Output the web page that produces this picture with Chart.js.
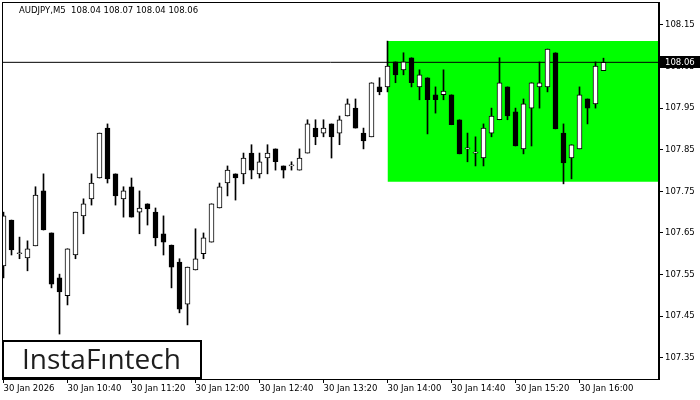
<!DOCTYPE html>
<html>
<head>
<meta charset="utf-8">
<script src="https://cdn.jsdelivr.net/npm/chart.js@4.4.1/dist/chart.umd.min.js"></script>
<style>
  html, body { margin: 0; padding: 0; background: #fff; }
  #wrap { width: 700px; height: 400px; }
</style>
</head>
<body>
<div id="wrap"><canvas id="priceChart" width="700" height="400"></canvas></div>
<script>
const symbol = 'AUDJPY,M5';

// 5-minute bars from 10:00, index = bar number
const openPrices = [
  107.571, 107.681, 107.600, 107.590, 107.619, 107.751, 107.650, 107.542, 107.499, 107.597,
  107.691, 107.732, 107.782, 107.902, 107.792, 107.732, 107.761, 107.700, 107.720, 107.700,
  107.648, 107.621, 107.580, 107.479, 107.561, 107.600, 107.628, 107.710, 107.770, 107.792,
  107.792, 107.842, 107.792, 107.830, 107.852, 107.811, 107.811, 107.801, 107.842, 107.902,
  107.890, 107.912, 107.890, 107.931, 107.950, 107.890, 107.881, 108.001, 108.001, 108.061,
  108.042, 108.071, 108.001, 108.023, 107.982, 107.982, 107.982, 107.922, 107.852, 107.842,
  107.830, 107.890, 107.922, 108.001, 107.941, 107.852, 107.950, 108.001, 108.001, 108.083,
  107.890, 107.830, 107.852, 107.972, 107.960, 108.040
];
const highPrices = [
  107.700, 107.681, 107.640, 107.631, 107.761, 107.792, 107.650, 107.551, 107.612, 107.700,
  107.732, 107.792, 107.890, 107.912, 107.792, 107.761, 107.782, 107.751, 107.720, 107.710,
  107.691, 107.621, 107.588, 107.568, 107.660, 107.650, 107.720, 107.770, 107.811, 107.792,
  107.842, 107.862, 107.842, 107.862, 107.852, 107.811, 107.821, 107.852, 107.922, 107.922,
  107.922, 107.912, 107.931, 107.972, 107.972, 107.902, 108.011, 108.023, 108.111, 108.061,
  108.083, 108.071, 108.042, 108.023, 108.001, 108.042, 107.982, 107.922, 107.890, 107.881,
  107.912, 107.950, 108.071, 108.001, 107.950, 107.972, 108.011, 108.061, 108.092, 108.083,
  107.912, 107.862, 108.001, 107.972, 108.061, 108.070
];
const lowPrices = [
  107.542, 107.597, 107.588, 107.559, 107.619, 107.657, 107.518, 107.407, 107.477, 107.588,
  107.648, 107.717, 107.782, 107.770, 107.717, 107.688, 107.688, 107.648, 107.669, 107.619,
  107.597, 107.518, 107.458, 107.429, 107.561, 107.588, 107.628, 107.710, 107.739, 107.729,
  107.768, 107.780, 107.782, 107.792, 107.801, 107.782, 107.801, 107.801, 107.842, 107.862,
  107.881, 107.830, 107.862, 107.931, 107.902, 107.852, 107.881, 107.982, 107.989, 108.011,
  108.030, 108.001, 107.970, 107.888, 107.938, 107.970, 107.910, 107.840, 107.821, 107.811,
  107.811, 107.881, 107.922, 107.922, 107.859, 107.840, 107.859, 107.950, 107.989, 107.900,
  107.768, 107.780, 107.852, 107.912, 107.950, 108.040
];
const closePrices = [
  107.691, 107.609, 107.600, 107.612, 107.741, 107.657, 107.527, 107.508, 107.612, 107.700,
  107.720, 107.770, 107.890, 107.780, 107.739, 107.751, 107.688, 107.710, 107.708, 107.638,
  107.628, 107.568, 107.467, 107.568, 107.588, 107.638, 107.720, 107.761, 107.801, 107.782,
  107.830, 107.801, 107.821, 107.842, 107.821, 107.801, 107.811, 107.830, 107.912, 107.881,
  107.902, 107.881, 107.922, 107.960, 107.902, 107.871, 108.011, 107.989, 108.051, 108.030,
  108.061, 108.011, 108.030, 107.970, 107.970, 107.991, 107.910, 107.840, 107.852, 107.842,
  107.902, 107.931, 108.011, 107.931, 107.859, 107.960, 108.011, 108.011, 108.092, 107.900,
  107.818, 107.862, 107.982, 107.950, 108.051, 108.060
];

const xTickBars = [0, 8, 16, 24, 32, 40, 48, 56, 64, 72];
const xTickLabels = [
  '30 Jan 2026', '30 Jan 10:40', '30 Jan 11:20', '30 Jan 12:00', '30 Jan 12:40',
  '30 Jan 13:20', '30 Jan 14:00', '30 Jan 14:40', '30 Jan 15:20', '30 Jan 16:00'
];
const yTicks = [107.35, 107.45, 107.55, 107.65, 107.75, 107.85, 107.95, 108.05, 108.15];

// rectangle object: starts at the 14:00 bar
const rectStartBar = 48;
const rectTop = 108.111;
const rectBottom = 107.773;

const lastIdx = closePrices.length - 1;
const lastClose = closePrices[lastIdx];
const xMin = -0.1875;
const xMax = 81.9375;

const fontFamily = "'DejaVu Sans', Verdana, sans-serif";
const labelFont = { family: fontFamily, size: 8.5 };

const bodyData = openPrices.map((o, i) => ({ x: i, y: [o, closePrices[i]] }));
const wickData = lowPrices.map((l, i) => ({ x: i, y: [l, highPrices[i]] }));
const bodyColors = openPrices.map((o, i) => closePrices[i] >= o ? '#ffffff' : '#000000');

function noScalePadding(scale) {
    scale.paddingTop = 0;
    scale.paddingBottom = 0;
    scale.paddingLeft = 0;
    scale.paddingRight = 0;
}

const overlayPlugin = {
    id: 'overlay',
    afterDraw(chart) {
        const ctx = chart.ctx;
        const area = chart.chartArea;
        const yScale = chart.scales.y;

        // frame
        ctx.save();
        ctx.strokeStyle = '#000';
        ctx.lineWidth = 1;
        ctx.strokeRect(area.left + 0.5, area.top + 0.5, area.right - area.left - 1, area.bottom - area.top);

        // title
        ctx.fillStyle = '#000';
        ctx.font = '8.5px ' + fontFamily;
        ctx.textBaseline = 'middle';
        ctx.textAlign = 'left';
        const title = symbol + '  ' + [openPrices[lastIdx], highPrices[lastIdx], lowPrices[lastIdx], closePrices[lastIdx]]
            .map(v => v.toFixed(2)).join(' ');
        ctx.fillText(title, 19, 11);

        // current price box
        const py = Math.round(yScale.getPixelForValue(lastClose));
        ctx.fillStyle = '#000';
        ctx.fillRect(area.right + 1, py - 6, chart.width - area.right - 1, 12);
        ctx.fillStyle = '#fff';
        ctx.fillText(lastClose.toFixed(2), area.right + 6, py + 0.5);

        // logo
        ctx.fillStyle = '#fff';
        ctx.fillRect(3, 341, 198, 37);
        ctx.strokeStyle = '#000';
        ctx.lineWidth = 2;
        ctx.strokeRect(3, 341, 198, 37);
        ctx.fillStyle = '#1e1e1e';
        ctx.font = "28px 'Open Sans', sans-serif";
        ctx.textBaseline = 'alphabetic';
        ctx.fillText('InstaF\u0131ntech', 22, 369);
        ctx.restore();
    }
};

new Chart(document.getElementById('priceChart'), {
    type: 'bar',
    data: {
        datasets: [
            {
                type: 'line',
                data: [{ x: rectStartBar, y: rectTop }, { x: xMax, y: rectTop }],
                borderWidth: 0,
                pointRadius: 0,
                backgroundColor: '#00ff00',
                fill: { value: rectBottom },
                order: 4
            },
            {
                type: 'line',
                data: [{ x: xMin, y: lastClose }, { x: xMax, y: lastClose }],
                borderColor: '#000',
                borderWidth: 1,
                pointRadius: 0,
                fill: false,
                order: 3
            },
            {
                data: wickData,
                backgroundColor: '#000',
                borderWidth: 0,
                barThickness: 1,
                grouped: false,
                order: 2
            },
            {
                data: bodyData,
                backgroundColor: bodyColors,
                borderColor: '#000',
                borderWidth: 1,
                borderSkipped: false,
                barThickness: 5,
                minBarLength: 1,
                grouped: false,
                order: 1
            }
        ]
    },
    options: {
        responsive: false,
        animation: false,
        devicePixelRatio: 1,
        layout: { padding: { left: 2, top: 2, right: 0, bottom: 0 } },
        plugins: {
            legend: { display: false },
            tooltip: { enabled: false }
        },
        scales: {
            x: {
                type: 'linear',
                min: xMin,
                max: xMax,
                offset: false,
                afterBuildTicks: (axis) => { axis.ticks = xTickBars.map(v => ({ value: v })); },
                afterFit: (scale) => { scale.height = 21; noScalePadding(scale); },
                ticks: {
                    autoSkip: false,
                    maxRotation: 0,
                    align: 'start',
                    padding: 1,
                    color: '#000',
                    font: labelFont,
                    callback: (value) => xTickLabels[xTickBars.indexOf(value)]
                },
                grid: { drawOnChartArea: false, offset: false, tickLength: 4, color: '#000' },
                border: { color: '#000' }
            },
            y: {
                position: 'right',
                min: 107.299,
                max: 108.205,
                afterBuildTicks: (axis) => { axis.ticks = yTicks.map(v => ({ value: v })); },
                afterFit: (scale) => { scale.width = 41; noScalePadding(scale); },
                ticks: {
                    padding: 2,
                    color: '#000',
                    font: labelFont,
                    callback: (value) => value.toFixed(2)
                },
                grid: { drawOnChartArea: false, tickLength: 4, color: '#000' },
                border: { color: '#000' }
            }
        }
    },
    plugins: [overlayPlugin]
});
</script>
</body>
</html>
